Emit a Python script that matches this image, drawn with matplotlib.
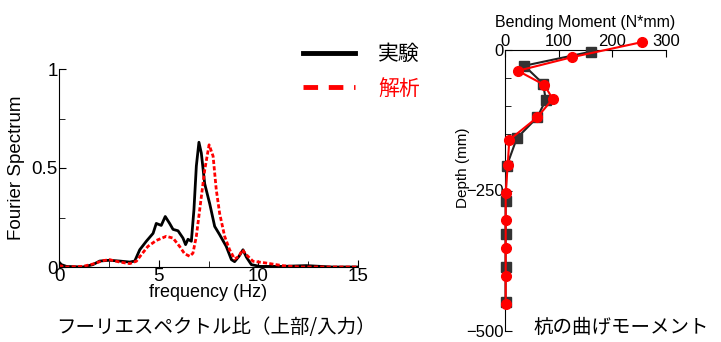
import numpy as np
import matplotlib
matplotlib.use("Agg")
import matplotlib.pyplot as plt
from matplotlib.ticker import MultipleLocator

plt.rcParams['font.family'] = ['Liberation Sans', 'Noto Sans CJK JP', 'DejaVu Sans']

# Fourier spectrum ratio (top / input)
freq_exp = [0, 0.12, 0.37, 1.2, 1.7, 2.04, 2.54, 3.04, 3.55, 3.8, 4.05, 4.38, 4.72,
            4.88, 5.13, 5.33, 5.55, 5.72, 5.97, 6.22, 6.35, 6.47, 6.64, 6.77, 6.89,
            7.02, 7.14, 7.31, 7.56, 7.81, 8.06, 8.39, 8.65, 8.81, 9.03, 9.23, 9.4,
            9.65, 10.07, 11.2, 12.4, 13.7, 15]
spec_exp = [0.025, 0.012, 0.003, 0.0, 0.012, 0.03, 0.034, 0.03, 0.025, 0.03, 0.087,
            0.13, 0.17, 0.22, 0.21, 0.255, 0.22, 0.19, 0.183, 0.146, 0.113, 0.14,
            0.13, 0.29, 0.51, 0.63, 0.575, 0.42, 0.32, 0.205, 0.163, 0.104, 0.037,
            0.027, 0.054, 0.087, 0.05, 0.012, 0.003, 0.003, 0.007, 0.0, 0.0]

freq_ana = [0, 0.37, 1.2, 1.7, 2.2, 2.54, 3.04, 3.55, 3.88, 4.13, 4.46, 4.88, 5.38,
            5.72, 6.05, 6.3, 6.56, 6.72, 6.89, 7.06, 7.31, 7.53, 7.73, 7.89, 8.06,
            8.31, 8.56, 8.81, 9.03, 9.2, 9.4, 9.73, 10.4, 11.2, 12.07, 13.7, 15]
spec_ana = [0.007, 0.0, 0.003, 0.015, 0.032, 0.037, 0.025, 0.017, 0.029, 0.062,
            0.104, 0.134, 0.155, 0.146, 0.104, 0.067, 0.054, 0.07, 0.155, 0.29, 0.49,
            0.617, 0.56, 0.39, 0.27, 0.155, 0.087, 0.04, 0.054, 0.087, 0.062, 0.029,
            0.02, 0.007, 0.0, 0.0, 0.0]

# Pile bending moment
moment_exp = [160, 36, 71, 76, 60, 22, 3, 1.3, 1, 1, 1]
depth_exp = [-3, -28, -60, -89, -120, -157, -207, -268, -328, -386, -448]
moment_ana = [255, 124, 24, 73, 89, 60, 8, 5, 1.3, 1.3, 1.3, 1.3, 1.3]
depth_ana = [14, -13, -37, -62, -87, -120, -160, -205, -254, -302, -353, -402, -452]

W, H = 721, 342
fig = plt.figure(figsize=(W / 100, H / 100), dpi=100)

# --- left: Fourier spectrum ---
ax1 = fig.add_axes([59 / W, (H - 267) / H, 299 / W, 198 / H])
ax1.plot(freq_exp, spec_exp, color='black', lw=2)
ax1.plot(freq_ana, spec_ana, color='#ff0000', lw=2, linestyle=(0, (1.5, 0.8)))
ax1.set_xlim(0, 15)
ax1.set_ylim(0, 1)
ax1.set_xticks([0, 5, 10, 15])
ax1.set_xticklabels(['0', '5', '10', '15'])
ax1.set_yticks([0, 0.5, 1])
ax1.set_yticklabels(['0', '0.5', '1'])
ax1.xaxis.set_minor_locator(MultipleLocator(2.5))
ax1.yaxis.set_minor_locator(MultipleLocator(0.25))
ax1.tick_params(which='both', direction='in', labelsize=13.5, pad=1)
ax1.tick_params(which='major', length=5)
ax1.tick_params(which='minor', length=4)
for s in ['top', 'right']:
    ax1.spines[s].set_visible(False)
ax1.set_xlabel('frequency (Hz)', fontsize=13, labelpad=-1)
ax1.set_ylabel('Fourier Spectrum', fontsize=13.5, labelpad=0)
ax1.yaxis.set_label_coords(-0.115, 0.5)

# legend drawn outside the axes
fig.add_artist(plt.Line2D([303 / W, 355 / W], [(H - 53) / H] * 2, color='black', lw=3.5))
fig.add_artist(plt.Line2D([303 / W, 355 / W], [(H - 87) / H] * 2, color='#ff0000',
                          lw=3.5, linestyle=(0, (3, 2.2))))
fig.text(378 / W, (H - 54) / H, '実験', fontsize=15, color='black', va='center',
         family=['Noto Sans CJK JP'])
fig.text(378 / W, (H - 89) / H, '解析', fontsize=15, color='#ff0000', va='center',
         family=['Noto Sans CJK JP'])
fig.text(216 / W, (H - 327) / H, 'フーリエスペクトル比（上部/入力）', fontsize=14,
         ha='center', va='center', family=['Noto Sans CJK JP'])

# --- right: bending moment profile ---
ax2 = fig.add_axes([505 / W, (H - 331) / H, 161 / W, 281 / H])
ax2.plot(moment_exp, depth_exp, color='#222222', lw=1.5, marker='s', ms=6.5,
         mfc='#333333', mec='#333333', clip_on=False, zorder=3)
ax2.plot(moment_ana, depth_ana, color='#ff0000', lw=1.5, marker='o', ms=7,
         mfc='#ff0000', mec='#ff0000', clip_on=False, zorder=4)
ax2.set_xlim(0, 300)
ax2.set_ylim(-500, 0)
ax2.xaxis.tick_top()
ax2.xaxis.set_label_position('top')
ax2.set_xticks([0, 100, 200, 300])
ax2.set_yticks([-500, -250, 0])
ax2.yaxis.set_minor_locator(MultipleLocator(50))
ax2.tick_params(which='both', direction='in', labelsize=12, pad=1)
ax2.tick_params(which='major', length=5)
ax2.tick_params(which='minor', length=4)
for s in ['bottom', 'right']:
    ax2.spines[s].set_visible(False)
ax2.set_xlabel('Bending Moment (N*mm)', fontsize=11.5, labelpad=5)
ax2.set_ylabel('Depth (mm)', fontsize=11, labelpad=0)
ax2.yaxis.set_label_coords(-0.215, 0.58)
fig.text(621 / W, (H - 327) / H, '杭の曲げモーメント', fontsize=14,
         ha='center', va='center', family=['Noto Sans CJK JP'])

fig.savefig('out.png', dpi=100)
